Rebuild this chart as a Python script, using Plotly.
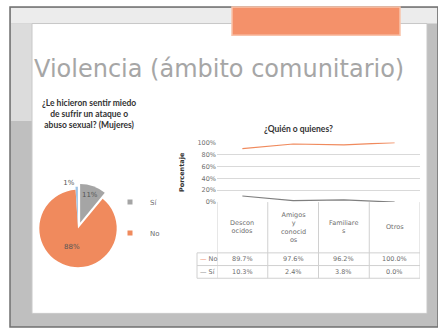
import plotly.graph_objects as go

# ---------------- data ----------------
title_text = "Violencia (ámbito comunitario)"
pie_title = "¿Le hicieron sentir miedo<br>de sufrir un ataque o<br>abuso sexual? (Mujeres)"
pie_labels = ["Sí", "No", "Otro"]
pie_values = [11, 88, 1]
pie_colors = ["#a5a5a5", "#f08a5d", "#9dc3e6"]

line_title = "¿Quién o quienes?"
categories = ["Desconocidos", "Amigos y conocidos", "Familiares", "Otros"]
category_ticklabels = ["Descon<br>ocidos", "Amigos<br>y<br>conocid<br>os", "Familiare<br>s", "Otros"]
series_names = ["No", "Sí"]
no_values = [89.7, 97.6, 96.2, 100.0]
si_values = [10.3, 2.4, 3.8, 0.0]
line_colors = ["#f08a5d", "#7f7f7f"]
y_ticks = [0, 20, 40, 60, 80, 100]

W, H = 438, 333
FONT = "DejaVu Sans"
BFONT = "Lato"
TXT = "#6e6e6e"

def px(x):
    return x / W

def py(y):
    return 1 - y / H

fig = go.Figure()

# ---------------- pie ----------------
fig.add_trace(go.Pie(
    labels=pie_labels, values=pie_values, sort=False, direction="clockwise", rotation=0,
    marker=dict(colors=pie_colors, line=dict(width=0)),
    pull=[0.16, 0, 0.08],
    texttemplate="%{percent:.0%}", textposition=["inside", "inside", "outside"],
    insidetextorientation="horizontal",
    textfont=dict(size=7, color="#555555", family=FONT),
    domain=dict(x=[px(32), px(124)], y=[py(276), py(184)]),
    showlegend=False, hoverinfo="label+percent",
))

# pie legend (Sí / No)
for i, (lab, col) in enumerate(zip(pie_labels[:2], pie_colors[:2])):
    fig.add_trace(go.Scatter(
        x=[None], y=[None], mode="markers", name=lab,
        marker=dict(symbol="square", size=5, color=col),
        legend="legend2", legendgroup=f"g{i}", showlegend=True,
        xaxis="x", yaxis="y",
    ))

# ---------------- line chart ----------------
for name, vals, col in zip(series_names, [no_values, si_values], line_colors):
    fig.add_trace(go.Scatter(
        x=categories, y=vals, mode="lines", name=name,
        line=dict(color=col, width=1.2), showlegend=False,
        xaxis="x", yaxis="y",
    ))

x0p, x1p = 217, 420
y0p, y100p = 203, 142
fig.update_layout(
    xaxis=dict(type="category", domain=[px(x0p), px(x1p)], range=[-0.5, 3.5], showticklabels=False,
               showgrid=False, zeroline=False, showline=False, anchor="y",
               categoryorder="array", categoryarray=categories),
    yaxis=dict(domain=[py(y0p), py(y100p)], range=[0, 100], tickvals=y_ticks,
               ticktext=[f"{v}%" for v in y_ticks], showgrid=True, gridcolor="#d9d9d9",
               gridwidth=1, zeroline=False, showline=False, anchor="x",
               tickfont=dict(size=6.5, color=TXT, family=FONT), ticks="",
               title=dict(text="<b>Porcentaje</b>", font=dict(size=6.5, color="#333333", family=FONT),
                          standoff=12)),
)

shapes = []
# slide frame / photo background
shapes.append(dict(type="rect", xref="paper", yref="paper", x0=px(10), x1=px(438), y0=py(331), y1=py(3),
                   fillcolor="#bfbfbf", line=dict(color="#707070", width=1.5), layer="below"))
shapes.append(dict(type="rect", xref="paper", yref="paper", x0=px(11), x1=px(437), y0=py(20), y1=py(4),
                   fillcolor="#ececec", line=dict(width=0), layer="below"))
shapes.append(dict(type="rect", xref="paper", yref="paper", x0=px(11), x1=px(32), y0=py(120), y1=py(20),
                   fillcolor="#dcdcdc", line=dict(width=0), layer="below"))
shapes.append(dict(type="rect", xref="paper", yref="paper", x0=px(32), x1=px(427), y0=py(317), y1=py(20),
                   fillcolor="#ffffff", line=dict(color="#c8c8c8", width=1), layer="below"))
# orange accent rectangle
shapes.append(dict(type="rect", xref="paper", yref="paper", x0=px(232), x1=px(400), y0=py(32), y1=py(3),
                   fillcolor="#f4916a", line=dict(color="#f9c3ab", width=1.5), layer="below"))

# data table lines (below line chart)
tab_top, tab_hdr, tab_r1, tab_bot = 203, 255, 268, 281
row_left = 197
for b in [-0.5, 0.5, 1.5, 2.5, 3.5]:
    shapes.append(dict(type="line", xref="x", yref="paper", x0=b, x1=b, y0=py(tab_bot), y1=py(tab_top),
                       line=dict(color="#d0d0d0", width=1)))
for yy in [tab_hdr, tab_r1, tab_bot]:
    shapes.append(dict(type="line", xref="paper", yref="paper", x0=px(row_left), x1=px(x1p), y0=py(yy), y1=py(yy),
                       line=dict(color="#d0d0d0", width=1)))
shapes.append(dict(type="line", xref="paper", yref="paper", x0=px(row_left), x1=px(row_left), y0=py(tab_bot), y1=py(tab_hdr),
                   line=dict(color="#d0d0d0", width=1)))

annotations = []
annotations.append(dict(text=title_text, xref="paper", yref="paper", x=px(32), y=py(67), xanchor="left",
                        yanchor="middle", showarrow=False, font=dict(size=24, color="#a6a6a6", family=FONT)))
annotations.append(dict(text=f"<b>{pie_title}</b>", xref="paper", yref="paper", x=px(89), y=py(94),
                        xanchor="center", yanchor="top", showarrow=False, align="center",
                        font=dict(size=8.5, color="#333333", family=BFONT)))
annotations.append(dict(text=f"<b>{line_title}</b>", xref="paper", yref="paper", x=px(298), y=py(128),
                        xanchor="center", yanchor="middle", showarrow=False,
                        font=dict(size=8.5, color="#333333", family=BFONT)))
for cat, lab in zip(categories, category_ticklabels):
    annotations.append(dict(text=lab, xref="x", yref="paper", x=cat, y=py((tab_top + tab_hdr) / 2),
                            xanchor="center", yanchor="middle", showarrow=False, align="center",
                            font=dict(size=6.5, color=TXT, family=FONT)))
for r, (name, vals, col) in enumerate(zip(series_names, [no_values, si_values], line_colors)):
    yrow = py((tab_hdr + tab_r1) / 2 if r == 0 else (tab_r1 + tab_bot) / 2)
    annotations.append(dict(text=f"<span style='color:{col}'>—</span> {name}", xref="paper", yref="paper",
                            x=px(row_left + 1), y=yrow, xanchor="left", yanchor="middle", showarrow=False,
                            font=dict(size=6.5, color=TXT, family=FONT)))
    for cat, v in zip(categories, vals):
        annotations.append(dict(text=f"{v:.1f}%", xref="x", yref="paper", x=cat, y=yrow,
                                xanchor="center", yanchor="middle", showarrow=False,
                                font=dict(size=6.5, color=TXT, family=FONT)))

fig.update_layout(
    width=W, height=H, margin=dict(l=0, r=0, t=0, b=0),
    paper_bgcolor="#ffffff", plot_bgcolor="rgba(0,0,0,0)",
    shapes=shapes, annotations=annotations,
    legend2=dict(x=px(110), y=py(188), xanchor="left", yanchor="top", bgcolor="rgba(0,0,0,0)",
                 font=dict(size=7, color=TXT, family=FONT), tracegroupgap=12),
    font=dict(family=FONT),
)

fig.write_html("out.html", config={"displayModeBar": False},
               post_script="document.body.style.margin='0';")
